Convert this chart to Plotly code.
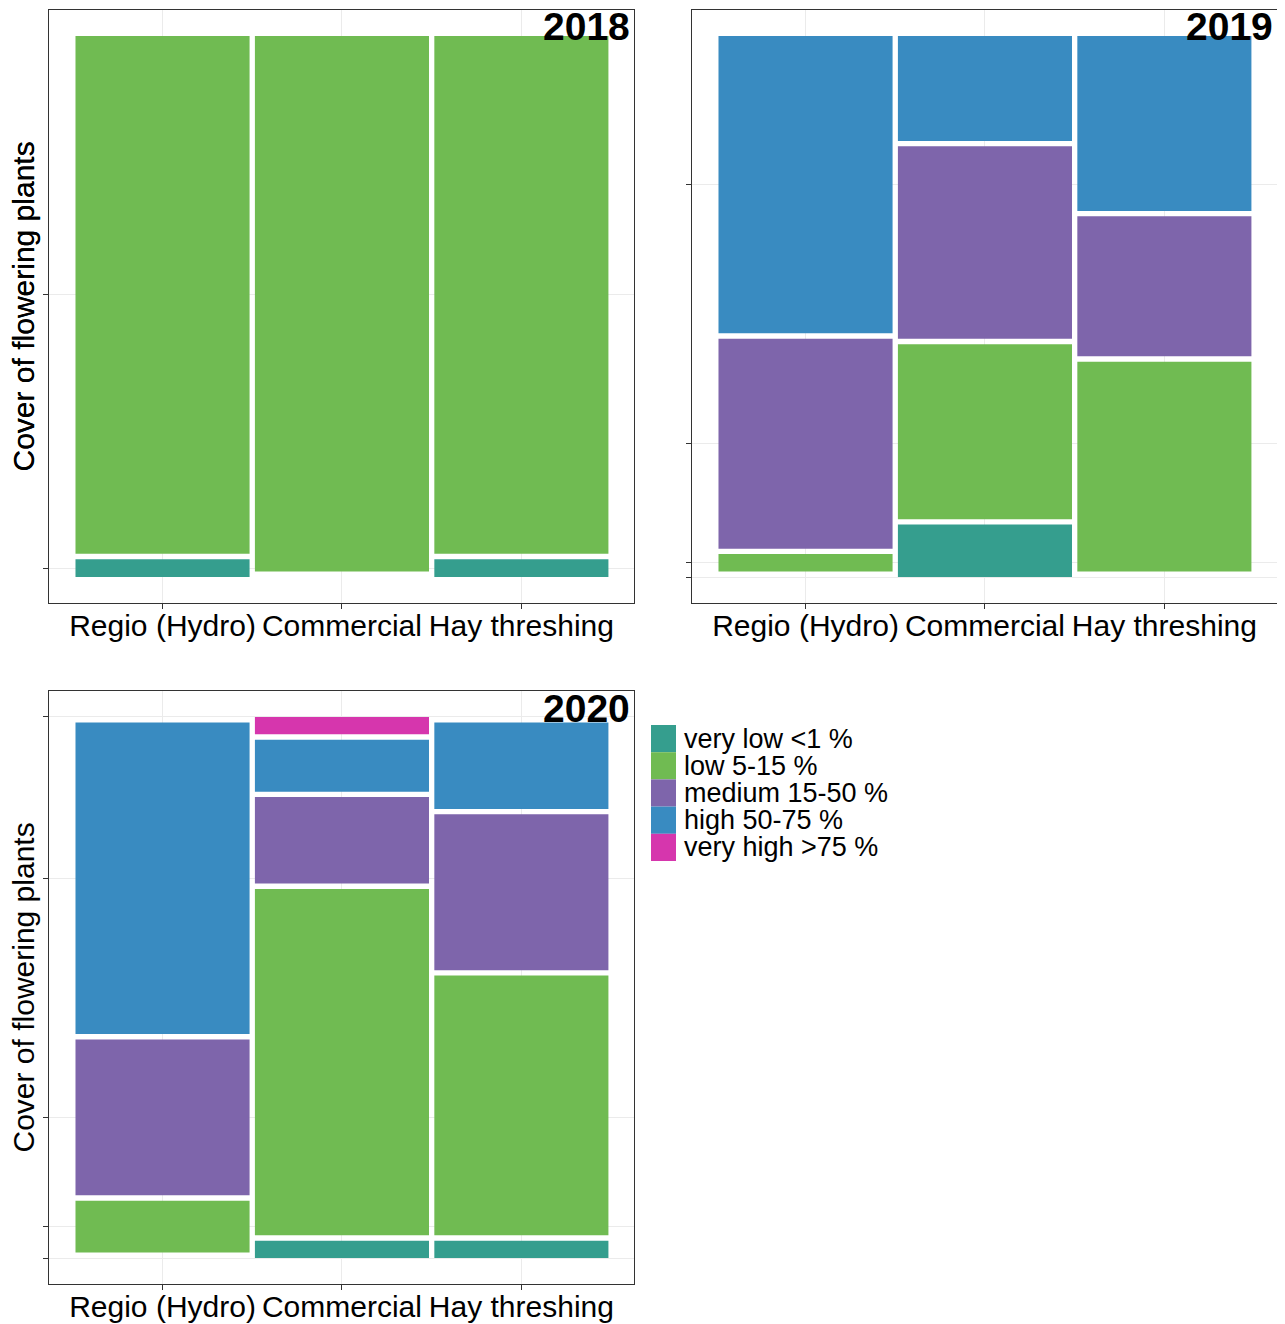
import plotly.graph_objects as go

# ---------------- data ----------------
categories = ["Regio (Hydro)", "Commercial", "Hay threshing"]
levels = ["very low <1 %", "low 5-15 %", "medium 15-50 %", "high 50-75 %", "very high >75 %"]
level_colors = ["#359E8E", "#70BB52", "#7E65AB", "#398BC1", "#D636AD"]
years = ["2018", "2019", "2020"]

# counts per level (rows: levels bottom->top), per category (columns)
counts_2018 = [[1, 0, 1], [29, 30, 29], [0, 0, 0], [0, 0, 0], [0, 0, 0]]
counts_2019 = [[0, 3, 0], [1, 10, 12], [12, 11, 8], [17, 6, 10], [0, 0, 0]]
counts_2020 = [[0, 1, 1], [3, 20, 15], [9, 5, 9], [18, 3, 5], [0, 1, 0]]
counts_by_year = {"2018": counts_2018, "2019": counts_2019, "2020": counts_2020}

OFFSET = 0.01  # mosaic spacing between tiles

# ---------------- layout constants (pixels in the page) ----------------
W, H = 1285, 1324
PAGE_OFF = 8  # default body margin of the html page
FW, FH = W - PAGE_OFF, H - PAGE_OFF


def px(x):
    return (x - PAGE_OFF) / FW


def py(y):
    return 1 - (y - PAGE_OFF) / FH


panels = {
    "2018": dict(x0=49, x1=634, y0=10, y1=603, ax=""),
    "2019": dict(x0=692, x1=1277, y0=10, y1=603, ax="2"),
    "2020": dict(x0=49, x1=634, y0=691, y1=1284, ax="3"),
}
FONT = "Liberation Sans, Arial, sans-serif"

fig = go.Figure()

ncat = len(categories)
colw = (1 - OFFSET * (ncat - 1)) / ncat
x_left = [k * (colw + OFFSET) for k in range(ncat)]
x_center = [xl + colw / 2 for xl in x_left]

annotations = []
shapes = []

for yr in years:
    counts = counts_by_year[yr]
    present = [i for i in range(len(levels)) if sum(counts[i]) > 0]
    L = len(present)
    scale = 1 - OFFSET * (L - 1)
    bases = {i: [0.0] * ncat for i in present}
    heights = {i: [0.0] * ncat for i in present}
    for c in range(ncat):
        total = sum(counts[i][c] for i in present)
        pos = 0.0
        for i in present:
            h = counts[i][c] / total * scale
            bases[i][c] = pos
            heights[i][c] = h
            pos += h + OFFSET
    ax = panels[yr]["ax"]
    for i in present:
        fig.add_trace(go.Bar(
            x=x_center, y=heights[i], base=bases[i], width=[colw] * ncat,
            marker=dict(color=level_colors[i], line=dict(width=0)),
            name=levels[i], showlegend=False,
            xaxis="x" + ax, yaxis="y" + ax,
        ))
    ytick = [bases[i][0] + heights[i][0] / 2 for i in present]

    p = panels[yr]
    xdom = [px(p["x0"]), px(p["x1"])]
    ydom = [py(p["y1"]), py(p["y0"])]
    common = dict(showline=True, mirror=True, linecolor="#333333", linewidth=1,
                  showgrid=True, gridcolor="#EBEBEB", gridwidth=1, zeroline=False,
                  ticks="outside", ticklen=5, tickwidth=1, tickcolor="#333333")
    fig.update_layout(**{
        "xaxis" + ax: dict(domain=xdom, range=[-0.0497, 1.048], tickvals=x_center,
                           ticktext=categories, ticklabelstandoff=-9,
                           tickfont=dict(size=30, color="black", family=FONT),
                           anchor="y" + ax, **common),
        "yaxis" + ax: dict(domain=ydom, range=[-0.048, 1.048], tickvals=ytick,
                           showticklabels=False, anchor="x" + ax, **common),
    })
    annotations.append(dict(
        text="<b>%s</b>" % yr, xref="paper", yref="paper",
        x=px(p["x1"] - 2), y=py(p["y0"] + 17), xanchor="right", yanchor="middle",
        showarrow=False, font=dict(size=39, color="black", family=FONT)))
    annotations.append(dict(
        text="Cover of flowering plants", xref="paper", yref="paper",
        x=px(23), y=py((p["y0"] + p["y1"]) / 2), xanchor="center", yanchor="middle",
        textangle=-90, showarrow=False, font=dict(size=30, color="black", family=FONT)))

# manual legend
leg_top = 725
pitch = 27.2
for i, lab in enumerate(levels):
    t = leg_top + i * pitch
    shapes.append(dict(type="rect", xref="paper", yref="paper",
                       x0=px(651), x1=px(676), y0=py(t + pitch), y1=py(t),
                       fillcolor=level_colors[i], line=dict(width=0)))
    annotations.append(dict(text=lab, xref="paper", yref="paper",
                            x=px(682), y=py(t + pitch / 2), xanchor="left", yanchor="middle",
                            showarrow=False, font=dict(size=27, color="black", family=FONT)))

fig.update_layout(
    width=FW, height=FH, margin=dict(l=0, r=0, t=0, b=0),
    paper_bgcolor="white", plot_bgcolor="white",
    barmode="overlay", showlegend=False,
    annotations=annotations, shapes=shapes,
    font=dict(family=FONT, color="black"),
)

fig.write_html("out.html")
